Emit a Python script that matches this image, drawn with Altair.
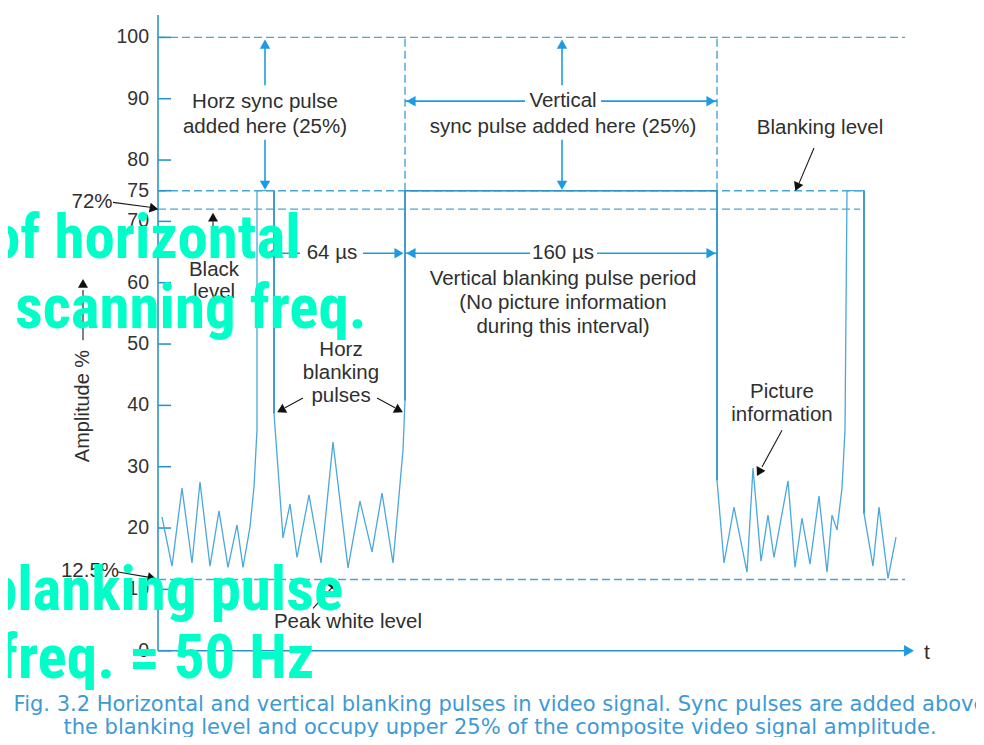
import altair as alt
import pandas as pd

# ---------------- data (t = arbitrary time units, a = amplitude %) ----------------
wave_t = [4, 14, 24, 34, 42, 52, 61, 70, 79, 85, 92, 96, 99, 99, 116, 116, 125, 132, 139, 151,
          163, 175, 190, 202, 214, 224, 235, 245, 247, 247, 559, 559, 566, 576, 589, 595, 603,
          610, 616, 630, 637, 644, 652, 661, 669, 674, 679, 684, 687, 689, 706, 706, 715, 721,
          730, 738]
wave_a = [21.8, 13.8, 26.5, 14.3, 27.5, 13.8, 22.8, 13.6, 20.5, 13.6, 20.2, 26.7, 36.0, 75, 75,
          38.7, 18.4, 23.9, 15.2, 25.4, 14.3, 34.0, 13.5, 24.4, 16.1, 25.7, 14.3, 32.7, 40.8, 75,
          75, 27.8, 14.3, 23.4, 12.8, 29.8, 14.6, 22.1, 15.2, 27.7, 13.6, 21.6, 14.1, 25.2, 12.8,
          22.1, 19.7, 26.5, 36.0, 75, 75, 22.4, 13.8, 23.4, 11.8, 18.5]

# solid pulse edges
edge_x1 = [116, 247, 559, 706, 247]
edge_x2 = [116, 247, 559, 706, 559]
edge_y1 = [38.7, 40.8, 27.8, 22.4, 75]
edge_y2 = [75, 75, 75, 75, 75]

# dashed reference levels
level_val = [100, 75, 72, 11.6]
level_end = [747, 706, 702, 747]
vdash_t = [247, 559]

# y axis
tick_vals = [0, 10, 20, 30, 40, 50, 60, 70, 75, 80, 90, 100]

# blue dimension arrows (segments)
bseg_x1 = [107, 107, 404, 404, 247, 443, 107, 205, 247, 439]
bseg_x2 = [107, 107, 404, 404, 367, 559, 142, 241, 372, 559]
bseg_y1 = [98.5, 83.3, 98.5, 83.3, 89.6, 89.6, 64.8, 64.8, 64.8, 64.8]
bseg_y2 = [92.2, 76.5, 92.2, 76.5, 89.6, 89.6, 64.8, 64.8, 64.8, 64.8]
bhead_t = [107, 107, 404, 404, 253, 553, 113, 241, 253, 553]
bhead_a = [98.9, 75.9, 98.9, 75.9, 89.6, 89.6, 64.8, 64.8, 64.8, 64.8]
bhead_shape = ["triangle-up", "triangle-down", "triangle-up", "triangle-down",
               "triangle-left", "triangle-right", "triangle-left", "triangle-right",
               "triangle-left", "triangle-right"]

# black pointer arrows
kseg_x1 = [-45, 55, 656, 145, 219, 624, -40, 155, -75]
kseg_x2 = [-8, 55, 641, 127, 237, 604, -10, 174, -75]
kseg_y1 = [73.1, 70.0, 81.96, 41.2, 41.2, 35.96, 12.83, 6.9, 50.6]
kseg_y2 = [72.3, 64.5, 76.2, 39.6, 39.6, 29.95, 12.0, 10.3, 58.8]
khead_t = [-4, 55, 639, 123, 241, 601, -6, 176, -75]
khead_a = [72.1, 70.7, 75.6, 39.2, 39.2, 29.1, 11.85, 10.8, 59.9]
khead_ang = [11, 270, 113, 152, 28, 118, 12, 309, 270]

# annotation labels
lab_text = ["Horz sync pulse", "added here (25%)", "Vertical", "sync pulse added here (25%)",
            "Blanking level", "72%", "Black", "level", "64 \u00b5s", "160 \u00b5s",
            "Vertical blanking pulse period", "(No picture information", "during this interval)",
            "Horz", "blanking", "pulses", "Picture", "information", "12.5%", "Peak white level"]
lab_t = [107, 107, 405, 405, 662, -66, 56, 56, 174, 405, 405, 405, 405, 183, 183, 183, 624, 624,
         -68, 190]
lab_a = [89.5, 85.4, 89.6, 85.4, 85.2, 73.1, 62.1, 58.5, 64.8, 64.8, 60.6, 56.7, 52.8, 49.0,
         45.3, 41.5, 42.2, 38.4, 13.0, 4.6]

caption = ["Fig. 3.2 Horizontal and vertical blanking pulses in video signal. Sync pulses are added above",
           "the blanking level and occupy upper 25% of the composite video signal amplitude."]
caption_a = [-8.9, -12.65]

overlay = ["of horizontal", "scanning freq.", "blanking pulse", "freq. = 50 Hz"]
overlay_t = [-168, -143, -171, -160]
overlay_a = [64.0, 52.6, 6.64, -4.45]

# ---------------- chart ----------------
W, H = 968, 729
xs = alt.Scale(domain=[-150, 818], nice=False, zero=False)
ys = alt.Scale(domain=[-14.07, 104.79], nice=False, zero=False)

AX = "#2e93c9"
DASH = "#4ba5d2"
WAVE = "#4aa8de"
ARR = "#1d9be2"
TXT = "#2f2f2f"
FONT = "Liberation Sans"


def xq(f):
    return alt.X(f"{f}:Q", scale=xs, axis=None)


def yq(f):
    return alt.Y(f"{f}:Q", scale=ys, axis=None)


layers = []

# dashed levels
lv = pd.DataFrame({"x1": [0] * len(level_val), "x2": level_end, "y": level_val})
layers.append(alt.Chart(lv).mark_rule(color=DASH, strokeWidth=1.4, strokeDash=[8, 4]).encode(
    x=xq("x1"), x2="x2:Q", y=yq("y")))
vd = pd.DataFrame({"x": vdash_t, "y1": [75] * 2, "y2": [100] * 2})
layers.append(alt.Chart(vd).mark_rule(color=DASH, strokeWidth=1.4, strokeDash=[8, 4]).encode(
    x=xq("x"), y=yq("y1"), y2="y2:Q"))

# axes lines
axl = pd.DataFrame({"x1": [0, 0], "x2": [0, 748], "y1": [0, 0], "y2": [103.65, 0]})
layers.append(alt.Chart(axl).mark_rule(color=AX, strokeWidth=1.6).encode(
    x=xq("x1"), x2="x2:Q", y=yq("y1"), y2="y2:Q"))
layers.append(alt.Chart(pd.DataFrame({"t": [751], "a": [0]})).mark_point(
    shape="triangle-right", filled=True, color=ARR, size=130, opacity=1).encode(x=xq("t"), y=yq("a")))

# ticks
tk = pd.DataFrame({"v": tick_vals, "x1": [0] * len(tick_vals), "x2": [13] * len(tick_vals),
                   "lab": [str(v) for v in tick_vals], "lx": [-9] * len(tick_vals)})
layers.append(alt.Chart(tk).mark_rule(color=AX, strokeWidth=1.6).encode(
    x=xq("x1"), x2="x2:Q", y=yq("v")))
layers.append(alt.Chart(tk).mark_text(align="right", baseline="middle", font=FONT, fontSize=19.5,
                                      color="#333333").encode(x=xq("lx"), y=yq("v"), text="lab:N"))

# waveform
wv = pd.DataFrame({"t": wave_t, "a": wave_a, "o": list(range(len(wave_t)))})
layers.append(alt.Chart(wv).mark_line(color=WAVE, strokeWidth=1.3).encode(
    x=xq("t"), y=yq("a"), order="o:Q"))

# solid edges
ed = pd.DataFrame({"x1": edge_x1, "x2": edge_x2, "y1": edge_y1, "y2": edge_y2})
layers.append(alt.Chart(ed).mark_rule(color=AX, strokeWidth=1.6).encode(
    x=xq("x1"), x2="x2:Q", y=yq("y1"), y2="y2:Q"))

# blue arrows
bs = pd.DataFrame({"x1": bseg_x1, "x2": bseg_x2, "y1": bseg_y1, "y2": bseg_y2})
layers.append(alt.Chart(bs).mark_rule(color=ARR, strokeWidth=1.6).encode(
    x=xq("x1"), x2="x2:Q", y=yq("y1"), y2="y2:Q"))
bh = pd.DataFrame({"t": bhead_t, "a": bhead_a, "s": bhead_shape})
layers.append(alt.Chart(bh).mark_point(filled=True, color=ARR, size=110, opacity=1).encode(
    x=xq("t"), y=yq("a"), shape=alt.Shape("s:N", scale=None)))

# black arrows
ks = pd.DataFrame({"x1": kseg_x1, "x2": kseg_x2, "y1": kseg_y1, "y2": kseg_y2})
layers.append(alt.Chart(ks).mark_rule(color="#1a1a1a", strokeWidth=1.1).encode(
    x=xq("x1"), x2="x2:Q", y=yq("y1"), y2="y2:Q"))
kh = pd.DataFrame({"t": khead_t, "a": khead_a, "ang": khead_ang})
layers.append(alt.Chart(kh).mark_point(shape="triangle-right", filled=True, color="#111111",
                                       size=100, opacity=1).encode(
    x=xq("t"), y=yq("a"), angle=alt.Angle("ang:Q", scale=None)))

# labels
lb = pd.DataFrame({"t": lab_t, "a": lab_a, "txt": lab_text})
layers.append(alt.Chart(lb).mark_text(align="center", baseline="middle", font=FONT, fontSize=20.5,
                                      color=TXT).encode(x=xq("t"), y=yq("a"), text="txt:N"))

# axis titles
layers.append(alt.Chart(pd.DataFrame({"t": [-75], "a": [39.9], "txt": ["Amplitude %"]})).mark_text(
    align="center", baseline="middle", angle=270, font=FONT, fontSize=20, color=TXT).encode(
    x=xq("t"), y=yq("a"), text="txt:N"))
layers.append(alt.Chart(pd.DataFrame({"t": [769], "a": [-0.4], "txt": ["t"]})).mark_text(
    align="center", baseline="middle", font=FONT, fontSize=21, color=TXT).encode(
    x=xq("t"), y=yq("a"), text="txt:N"))

# caption
cp = pd.DataFrame({"t": [342, 342], "a": caption_a, "txt": caption})
layers.append(alt.Chart(cp).mark_text(align="center", baseline="middle", font="DejaVu Sans",
                                      fontSize=21, color="#3d9ad4").encode(
    x=xq("t"), y=yq("a"), text="txt:N"))

# overlay slide text
ov = pd.DataFrame({"t": overlay_t, "a": overlay_a, "txt": overlay})
layers.append(alt.Chart(ov).mark_text(align="left", baseline="alphabetic",
                                      font="Roboto Condensed, Roboto, sans-serif",
                                      fontWeight="bold", fontSize=61, color="#00FFC8").encode(
    x=xq("t"), y=yq("a"), text="txt:N"))

chart = alt.layer(*layers).properties(
    width=W, height=H, padding=0, autosize=alt.AutoSizeParams(type="none"),
    background="white").configure_view(stroke=None)

chart.save("out.html", embed_options={"renderer": "svg", "actions": False})
